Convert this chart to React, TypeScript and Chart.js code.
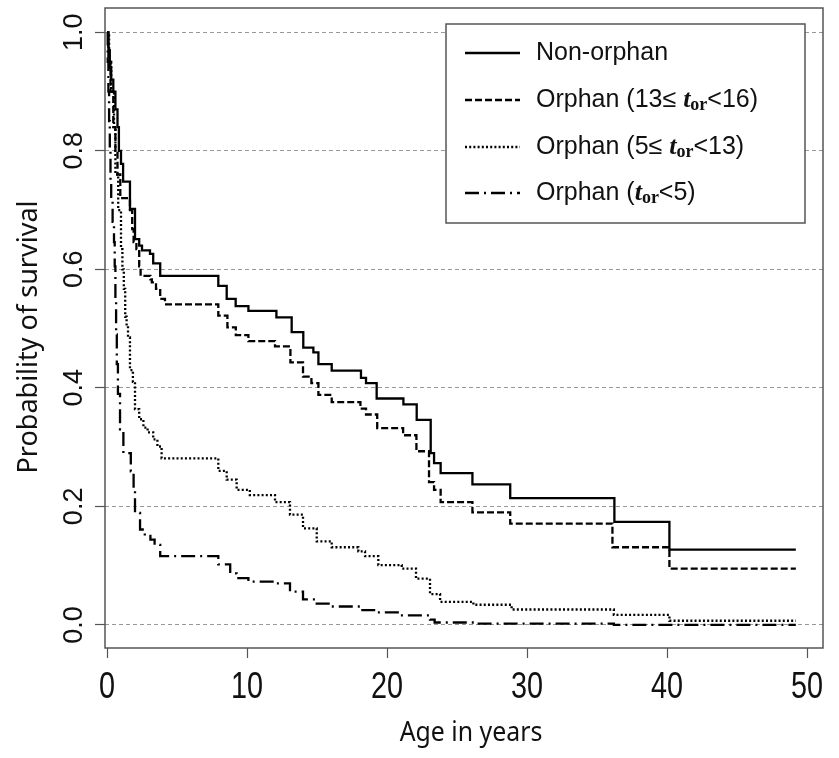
import React, { useEffect, useRef } from 'react';
import { Chart, registerables } from 'chart.js';

Chart.register(...registerables);

// ---- axis ticks ----
const xTicks = [0, 10, 20, 30, 40, 50];
const yTicks = [0, 0.2, 0.4, 0.6, 0.8, 1.0];
const yTickLabels = ['0.0', '0.2', '0.4', '0.6', '0.8', '1.0'];
const xTitle = 'Age in years';
const yTitle = 'Probability of survival';

// ---- series (Kaplan-Meier step points: time, survival after step) ----
const nonOrphanTimes = [0, 0.1, 0.2, 0.3, 0.45, 0.6, 0.75, 0.85, 1.0, 1.15, 1.64, 2.0, 2.3, 2.5, 3.07, 3.3, 3.8, 7.95, 8.55, 9.19, 10.1, 12.1, 13.19, 14.02, 14.74, 15.1, 16.05, 18.14, 18.5, 19.26, 21.17, 22.12, 23.12, 23.36, 23.83, 26.1, 28.8, 36.24, 40.17, 49.2];
const nonOrphanSurv = [1.0, 0.97, 0.94, 0.92, 0.9, 0.87, 0.84, 0.8, 0.778, 0.748, 0.702, 0.651, 0.64, 0.632, 0.626, 0.61, 0.589, 0.572, 0.55, 0.538, 0.53, 0.519, 0.494, 0.468, 0.46, 0.44, 0.429, 0.417, 0.408, 0.382, 0.372, 0.346, 0.29, 0.273, 0.256, 0.237, 0.214, 0.174, 0.127, 0.127];

const orphan13Times = [0, 0.1, 0.25, 0.45, 0.6, 0.75, 0.95, 1.64, 1.8, 1.9, 2.1, 2.3, 2.4, 3.1, 3.2, 3.5, 3.8, 4.14, 7.95, 8.6, 9.2, 10.1, 12.0, 13.1, 14.0, 14.6, 15.1, 16.05, 18.1, 18.5, 19.3, 21.15, 22.1, 23.0, 23.36, 23.83, 26.1, 28.8, 36.1, 40.17, 49.2];
const orphan13Surv = [1.0, 0.95, 0.9, 0.84, 0.8, 0.76, 0.72, 0.7, 0.668, 0.646, 0.634, 0.605, 0.589, 0.583, 0.578, 0.567, 0.55, 0.541, 0.522, 0.502, 0.489, 0.479, 0.47, 0.443, 0.419, 0.408, 0.388, 0.376, 0.365, 0.355, 0.332, 0.32, 0.293, 0.241, 0.228, 0.207, 0.19, 0.171, 0.131, 0.095, 0.095];

const orphan5Times = [0, 0.15, 0.3, 0.5, 0.6, 0.8, 1.0, 1.1, 1.2, 1.3, 1.4, 1.5, 1.64, 1.85, 2.0, 2.3, 2.6, 2.9, 3.3, 3.6, 3.9, 7.95, 8.55, 9.26, 10.2, 12.0, 13.07, 14.0, 14.98, 16.05, 17.95, 18.43, 19.38, 21.05, 22.07, 23.07, 23.79, 26.17, 28.9, 36.2, 40.17, 49.2];
const orphan5Surv = [1.0, 0.95, 0.9, 0.84, 0.76, 0.7, 0.634, 0.6, 0.567, 0.52, 0.505, 0.485, 0.43, 0.41, 0.364, 0.347, 0.333, 0.325, 0.313, 0.301, 0.281, 0.26, 0.245, 0.228, 0.219, 0.207, 0.186, 0.163, 0.141, 0.131, 0.124, 0.116, 0.101, 0.095, 0.078, 0.052, 0.039, 0.034, 0.026, 0.017, 0.007, 0.007];

const orphanLt5Times = [0, 0.05, 0.1, 0.15, 0.2, 0.25, 0.3, 0.4, 0.5, 0.55, 0.6, 0.65, 0.7, 0.78, 0.93, 1.17, 1.7, 1.9, 2.0, 2.36, 2.7, 3.1, 3.4, 3.8, 7.95, 8.8, 9.26, 10.1, 12.0, 13.07, 14.0, 14.98, 16.05, 18.07, 19.3, 20.9, 23.07, 23.4, 26.2, 36.2, 49.2];
const orphanLt5Surv = [1.0, 0.95, 0.9, 0.85, 0.8, 0.75, 0.72, 0.68, 0.646, 0.605, 0.55, 0.49, 0.44, 0.39, 0.33, 0.29, 0.259, 0.228, 0.189, 0.161, 0.15, 0.144, 0.135, 0.116, 0.102, 0.087, 0.079, 0.073, 0.07, 0.056, 0.043, 0.036, 0.031, 0.025, 0.021, 0.016, 0.009, 0.004, 0.002, 0.0, 0.0];

const seriesNames = ['Non-orphan', 'Orphan (13≤ t_or<16)', 'Orphan (5≤ t_or<13)', 'Orphan (t_or<5)'];
const seriesDash = [[], [7, 3], [2, 2.2], [14, 5, 2, 5]];

const SANS = "'Liberation Sans', Arial, sans-serif";
const SERIF = "'Liberation Serif', 'Times New Roman', serif";
const TITLE = "'Noto Sans', 'Liberation Sans', sans-serif";

type Part = { text: string; font: string; dy?: number };

function legendParts(i: number): Part[] {
  const reg = `25px ${SANS}`;
  const it = `italic bold 26px ${SERIF}`;
  const sub = `bold 18px ${SERIF}`;
  if (i === 0) return [{ text: 'Non-orphan', font: reg }];
  if (i === 1)
    return [
      { text: 'Orphan (13≤ ', font: reg },
      { text: 't', font: it },
      { text: 'or', font: sub, dy: 5 },
      { text: '<16)', font: reg },
    ];
  if (i === 2)
    return [
      { text: 'Orphan (5≤ ', font: reg },
      { text: 't', font: it },
      { text: 'or', font: sub, dy: 5 },
      { text: '<13)', font: reg },
    ];
  return [
    { text: 'Orphan (', font: reg },
    { text: 't', font: it },
    { text: 'or', font: sub, dy: 5 },
    { text: '<5)', font: reg },
  ];
}

function scaledText(ctx: CanvasRenderingContext2D, text: string, x: number, y: number, sx: number, rot: number) {
  ctx.save();
  ctx.translate(x, y);
  ctx.rotate(rot);
  ctx.scale(sx, 1);
  ctx.fillText(text, 0, 0);
  ctx.restore();
}

const decorPlugin = {
  id: 'decor',
  afterDraw(chart: any) {
    const { ctx, chartArea, scales } = chart;
    ctx.save();
    // plot frame
    ctx.strokeStyle = '#555';
    ctx.lineWidth = 1.5;
    ctx.setLineDash([]);
    ctx.strokeRect(chartArea.left, chartArea.top, chartArea.right - chartArea.left, chartArea.bottom - chartArea.top);

    ctx.fillStyle = '#111';
    ctx.textAlign = 'center';
    ctx.textBaseline = 'middle';

    // rotated y tick labels
    ctx.font = `27px ${SANS}`;
    yTicks.forEach((v, i) => {
      scaledText(ctx, yTickLabels[i], 75, scales.y.getPixelForValue(v), 1, -Math.PI / 2);
    });

    // x tick labels (condensed)
    ctx.font = `36px ${SANS}`;
    xTicks.forEach((v) => {
      scaledText(ctx, String(v), scales.x.getPixelForValue(v), 688, 0.8, 0);
    });

    // axis titles
    ctx.font = `27px ${TITLE}`;
    scaledText(ctx, xTitle, 471, 733, 0.92, 0);
    scaledText(ctx, yTitle, 29, 337, 1, -Math.PI / 2);

    // legend box
    const bx = 446, by = 24, bw = 359, bh = 199;
    ctx.fillStyle = '#fff';
    ctx.fillRect(bx, by, bw, bh);
    ctx.strokeStyle = '#555';
    ctx.lineWidth = 1.5;
    ctx.strokeRect(bx, by, bw, bh);
    const rows = [53, 100, 147, 193];
    chart.data.datasets.forEach((ds: any, i: number) => {
      const y = rows[i];
      ctx.strokeStyle = ds.borderColor;
      ctx.lineWidth = ds.borderWidth;
      ctx.setLineDash(ds.borderDash || []);
      ctx.beginPath();
      ctx.moveTo(465, y);
      ctx.lineTo(520, y);
      ctx.stroke();
      ctx.setLineDash([]);
      let x = 536;
      ctx.fillStyle = '#111';
      ctx.textAlign = 'left';
      ctx.textBaseline = 'middle';
      legendParts(i).forEach((p) => {
        ctx.font = p.font;
        ctx.fillText(p.text, x, y + (p.dy || 0));
        x += ctx.measureText(p.text).width;
      });
    });
    ctx.restore();
  },
};

function makeData(times: number[], surv: number[]) {
  return times.map((t, i) => ({ x: t, y: surv[i] }));
}

export default function App() {
  const ref = useRef<HTMLCanvasElement>(null);
  useEffect(() => {
    if (!ref.current) return;
    const series = [
      makeData(nonOrphanTimes, nonOrphanSurv),
      makeData(orphan13Times, orphan13Surv),
      makeData(orphan5Times, orphan5Surv),
      makeData(orphanLt5Times, orphanLt5Surv),
    ];
    const chart = new Chart(ref.current, {
      type: 'line',
      data: {
        datasets: series.map((d, i) => ({
          label: seriesNames[i],
          data: d,
          borderColor: '#000',
          borderWidth: 2.3,
          borderDash: seriesDash[i],
          stepped: true,
          pointRadius: 0,
          fill: false,
          tension: 0,
        })),
      },
      options: {
        responsive: false,
        animation: false,
        layout: { padding: { top: 8, right: 16, left: 0, bottom: 0 } },
        plugins: { legend: { display: false }, tooltip: { enabled: false } },
        scales: {
          x: {
            type: 'linear',
            min: -0.143,
            max: 51.14,
            afterBuildTicks: (s: any) => {
              s.ticks = xTicks.map((v) => ({ value: v }));
            },
            afterFit: (s: any) => {
              s.height = 110;
            },
            ticks: { display: false },
            grid: { drawOnChartArea: false, drawTicks: true, tickLength: 10, color: '#555', tickColor: '#555', tickWidth: 1.2 },
            border: { display: false },
          },
          y: {
            type: 'linear',
            min: -0.039,
            max: 1.041,
            afterBuildTicks: (s: any) => {
              s.ticks = yTicks.map((v) => ({ value: v }));
            },
            afterFit: (s: any) => {
              s.width = 105;
            },
            ticks: { display: false },
            grid: { color: '#999', lineWidth: 1, drawTicks: true, tickLength: 10, tickColor: '#555', tickWidth: 1.2, tickBorderDash: [] },
            border: { display: false, dash: [4, 3] },
          },
        },
      },
      plugins: [decorPlugin],
    } as any);
    return () => chart.destroy();
  }, []);
  return (
    <div style={{ position: 'absolute', left: 0, top: 0, width: 839, height: 758, background: '#fff' }}>
      <canvas ref={ref} width={839} height={758} style={{ display: 'block' }} />
    </div>
  );
}
